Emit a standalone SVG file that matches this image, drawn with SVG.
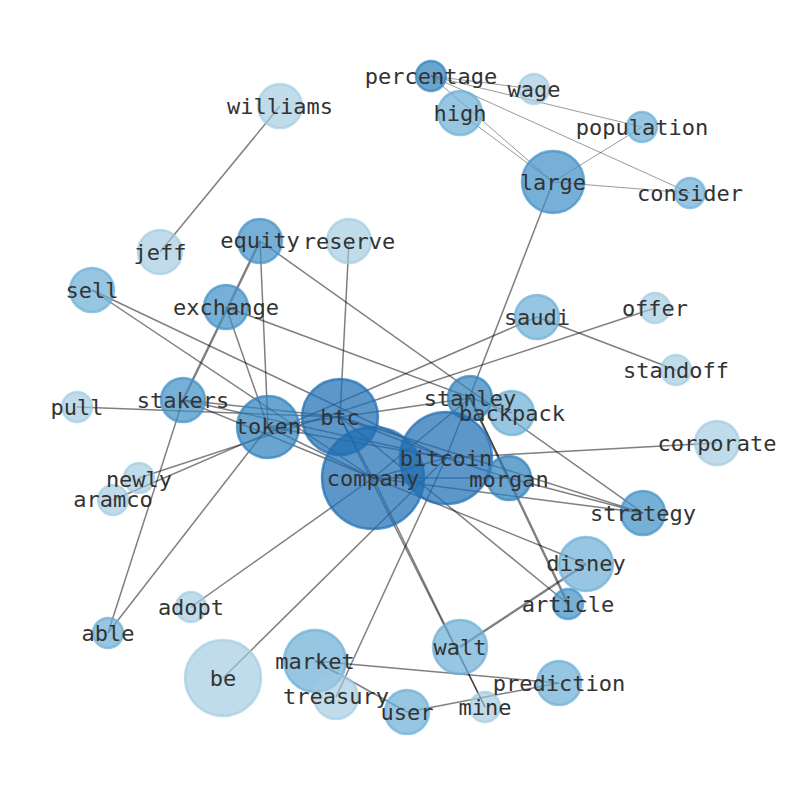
<svg xmlns="http://www.w3.org/2000/svg" width="794" height="790" viewBox="0 0 794 790">
<style>
.e{stroke:#000;stroke-opacity:0.5;stroke-width:1.5;fill:none}
.t{stroke:#000;stroke-opacity:0.5;stroke-width:0.8;fill:none}
.w{stroke:#000;stroke-opacity:0.5;stroke-width:2.4;fill:none}
.n1{fill:#1f6db3;fill-opacity:0.72;stroke:#1f6db3;stroke-opacity:0.72;stroke-width:2.5}
.n2{fill:#3182bd;fill-opacity:0.72;stroke:#3182bd;stroke-opacity:0.72;stroke-width:2.5}
.n3{fill:#4292c6;fill-opacity:0.72;stroke:#4292c6;stroke-opacity:0.72;stroke-width:2.5}
.n4{fill:#6baed6;fill-opacity:0.7;stroke:#6baed6;stroke-opacity:0.7;stroke-width:2.5}
.n5{fill:#9ecae1;fill-opacity:0.65;stroke:#9ecae1;stroke-opacity:0.65;stroke-width:2.5}
text{font-family:"DejaVu Sans Mono","Liberation Mono",monospace;font-size:22px;fill:#333;text-anchor:middle;dominant-baseline:central}
</style>
<rect width="794" height="790" fill="#fff"/>
<g id="edges">
<line class="t" x1="431" y1="76" x2="534" y2="89"/>
<line class="t" x1="431" y1="76" x2="642" y2="127"/>
<line class="t" x1="431" y1="76" x2="690" y2="193"/>
<line class="t" x1="431" y1="76" x2="553" y2="182"/>
<line class="t" x1="460" y1="113" x2="553" y2="182"/>
<line class="t" x1="553" y1="182" x2="642" y2="127"/>
<line class="t" x1="553" y1="182" x2="690" y2="193"/>
<line class="e" x1="553" y1="182" x2="446" y2="458"/>
<line class="e" x1="280" y1="106" x2="160" y2="252"/>
<line class="e" x1="260" y1="241" x2="268" y2="427"/>
<line class="w" x1="260" y1="241" x2="183" y2="400"/>
<line class="e" x1="260" y1="241" x2="643" y2="513"/>
<line class="e" x1="349" y1="241" x2="340" y2="417"/>
<line class="e" x1="226" y1="307" x2="268" y2="427"/>
<line class="e" x1="226" y1="307" x2="512" y2="413"/>
<line class="e" x1="92" y1="290" x2="446" y2="458"/>
<line class="e" x1="92" y1="290" x2="373" y2="478"/>
<line class="e" x1="537" y1="317" x2="676" y2="370"/>
<line class="e" x1="537" y1="317" x2="113" y2="500"/>
<line class="e" x1="655" y1="308" x2="139" y2="478"/>
<line class="e" x1="77" y1="407" x2="340" y2="417"/>
<line class="e" x1="183" y1="400" x2="340" y2="417"/>
<line class="e" x1="183" y1="400" x2="446" y2="458"/>
<line class="e" x1="183" y1="400" x2="373" y2="478"/>
<line class="e" x1="183" y1="400" x2="108" y2="633"/>
<line class="e" x1="108" y1="633" x2="268" y2="427"/>
<line class="e" x1="268" y1="427" x2="340" y2="417"/>
<line class="e" x1="268" y1="427" x2="373" y2="478"/>
<line class="e" x1="268" y1="427" x2="446" y2="458"/>
<line class="e" x1="340" y1="417" x2="373" y2="478"/>
<line class="e" x1="340" y1="417" x2="446" y2="458"/>
<line class="e" x1="340" y1="417" x2="470" y2="398"/>
<line class="e" x1="340" y1="417" x2="643" y2="513"/>
<line class="e" x1="340" y1="417" x2="568" y2="604"/>
<line class="e" x1="340" y1="417" x2="485" y2="707"/>
<line class="e" x1="373" y1="478" x2="446" y2="458"/>
<line class="e" x1="373" y1="478" x2="509" y2="478"/>
<line class="e" x1="373" y1="478" x2="470" y2="398"/>
<line class="e" x1="373" y1="478" x2="643" y2="513"/>
<line class="e" x1="373" y1="478" x2="586" y2="564"/>
<line class="e" x1="373" y1="478" x2="485" y2="707"/>
<line class="e" x1="191" y1="607" x2="373" y2="478"/>
<line class="e" x1="223" y1="678" x2="446" y2="458"/>
<line class="e" x1="336" y1="697" x2="446" y2="458"/>
<line class="e" x1="446" y1="458" x2="509" y2="478"/>
<line class="e" x1="446" y1="458" x2="717" y2="443"/>
<line class="e" x1="470" y1="398" x2="509" y2="478"/>
<line class="w" x1="470" y1="398" x2="568" y2="604"/>
<line class="e" x1="509" y1="478" x2="643" y2="513"/>
<line class="w" x1="460" y1="647" x2="586" y2="564"/>
<line class="e" x1="315" y1="661" x2="559" y2="683"/>
<line class="e" x1="315" y1="661" x2="407" y2="712"/>
<line class="e" x1="407" y1="712" x2="559" y2="683"/>
</g>
<g id="node-percentage"><circle class="n2" cx="431" cy="76" r="15"/></g>
<g id="node-wage"><circle class="n5" cx="534" cy="89" r="15"/></g>
<g id="node-high"><circle class="n4" cx="460" cy="113" r="22"/></g>
<g id="node-population"><circle class="n4" cx="642" cy="127" r="15"/></g>
<g id="node-large"><circle class="n3" cx="553" cy="182" r="31"/></g>
<g id="node-consider"><circle class="n4" cx="690" cy="193" r="15"/></g>
<g id="node-williams"><circle class="n5" cx="280" cy="106" r="22"/></g>
<g id="node-jeff"><circle class="n5" cx="160" cy="252" r="22"/></g>
<g id="node-equity"><circle class="n3" cx="260" cy="241" r="22"/></g>
<g id="node-reserve"><circle class="n5" cx="349" cy="241" r="22"/></g>
<g id="node-sell"><circle class="n4" cx="92" cy="290" r="22"/></g>
<g id="node-exchange"><circle class="n3" cx="226" cy="307" r="22"/></g>
<g id="node-saudi"><circle class="n4" cx="537" cy="317" r="22"/></g>
<g id="node-offer"><circle class="n5" cx="655" cy="308" r="15"/></g>
<g id="node-standoff"><circle class="n5" cx="676" cy="370" r="15"/></g>
<g id="node-pull"><circle class="n5" cx="77" cy="407" r="15"/></g>
<g id="node-stakers"><circle class="n3" cx="183" cy="400" r="22"/></g>
<g id="node-token"><circle class="n2" cx="268" cy="427" r="31"/></g>
<g id="node-btc"><circle class="n1" cx="340" cy="417" r="38"/></g>
<g id="node-stanley"><circle class="n2" cx="470" cy="398" r="22"/></g>
<g id="node-backpack"><circle class="n4" cx="512" cy="413" r="22"/></g>
<g id="node-company"><circle class="n1" cx="373" cy="478" r="51"/></g>
<g id="node-bitcoin"><circle class="n1" cx="446" cy="458" r="46"/></g>
<g id="node-morgan"><circle class="n2" cx="509" cy="478" r="22"/></g>
<g id="node-corporate"><circle class="n5" cx="717" cy="443" r="22"/></g>
<g id="node-strategy"><circle class="n3" cx="643" cy="513" r="22"/></g>
<g id="node-newly"><circle class="n5" cx="139" cy="478" r="15"/></g>
<g id="node-aramco"><circle class="n5" cx="113" cy="500" r="15"/></g>
<g id="node-disney"><circle class="n4" cx="586" cy="564" r="27"/></g>
<g id="node-article"><circle class="n3" cx="568" cy="604" r="15"/></g>
<g id="node-adopt"><circle class="n5" cx="191" cy="607" r="15"/></g>
<g id="node-able"><circle class="n4" cx="108" cy="633" r="15"/></g>
<g id="node-be"><circle class="n5" cx="223" cy="678" r="38"/></g>
<g id="node-market"><circle class="n4" cx="315" cy="661" r="31"/></g>
<g id="node-treasury"><circle class="n5" cx="336" cy="697" r="22"/></g>
<g id="node-walt"><circle class="n4" cx="460" cy="647" r="27"/></g>
<g id="node-prediction"><circle class="n4" cx="559" cy="683" r="22"/></g>
<g id="node-user"><circle class="n4" cx="407" cy="712" r="22"/></g>
<g id="node-mine"><circle class="n5" cx="485" cy="707" r="15"/></g>
<g id="labels">
<text x="431" y="76">percentage</text>
<text x="534" y="89">wage</text>
<text x="460" y="113">high</text>
<text x="642" y="127">population</text>
<text x="553" y="182">large</text>
<text x="690" y="193">consider</text>
<text x="280" y="106">williams</text>
<text x="160" y="252">jeff</text>
<text x="260" y="240">equity</text>
<text x="349" y="241">reserve</text>
<text x="92" y="290">sell</text>
<text x="226" y="307">exchange</text>
<text x="537" y="317">saudi</text>
<text x="655" y="308">offer</text>
<text x="676" y="370">standoff</text>
<text x="77" y="407">pull</text>
<text x="183" y="400">stakers</text>
<text x="268" y="426">token</text>
<text x="340" y="417">btc</text>
<text x="470" y="398">stanley</text>
<text x="512" y="413">backpack</text>
<text x="446" y="458">bitcoin</text>
<text x="373" y="478">company</text>
<text x="509" y="479">morgan</text>
<text x="717" y="443">corporate</text>
<text x="643" y="513">strategy</text>
<text x="139" y="479">newly</text>
<text x="113" y="499">aramco</text>
<text x="586" y="563">disney</text>
<text x="568" y="604">article</text>
<text x="191" y="607">adopt</text>
<text x="108" y="633">able</text>
<text x="223" y="678">be</text>
<text x="315" y="661">market</text>
<text x="336" y="696">treasury</text>
<text x="460" y="647">walt</text>
<text x="559" y="683">prediction</text>
<text x="407" y="712">user</text>
<text x="485" y="707">mine</text>
</g>
</svg>
